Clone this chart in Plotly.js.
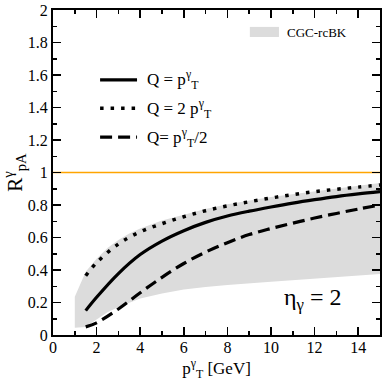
<!DOCTYPE html>
<html>
<head>
<meta charset="utf-8">
<script src="https://cdn.plot.ly/plotly-3.0.1.min.js"></script>
<style>
html,body{margin:0;padding:0;background:#fff;}
#chart{width:382px;height:382px;}
#chart svg text{font-family:"Liberation Serif","Times New Roman",serif !important;}
</style>
</head>
<body>
<div id="chart"></div>
<script>
// Data
const ptX = [1.5, 2, 3, 4, 5, 6, 7, 8, 9, 10, 11, 12, 13, 14, 15];
const qEqPt = [0.15, 0.232, 0.378, 0.495, 0.578, 0.642, 0.693, 0.732, 0.762, 0.788, 0.812, 0.833, 0.852, 0.868, 0.882];
const qEq2Pt = [0.365, 0.445, 0.56, 0.635, 0.685, 0.728, 0.765, 0.795, 0.82, 0.843, 0.864, 0.882, 0.897, 0.91, 0.923];
const qEqHalfPt = [0.05, 0.075, 0.16, 0.26, 0.355, 0.44, 0.51, 0.568, 0.618, 0.655, 0.688, 0.72, 0.748, 0.775, 0.80];

const bandLowX = [1, 1.5, 2, 2.5, 3, 4, 5, 6, 7, 8, 10, 12, 15];
const bandLowY = [0.045, 0.05, 0.095, 0.14, 0.172, 0.225, 0.256, 0.28, 0.295, 0.308, 0.328, 0.345, 0.375];
const bandHighX = [1, 1.5, 2, 2.5, 3, 3.5, 4, 5, 6, 7, 8, 10, 12, 15];
const bandHighY = [0.236, 0.39, 0.47, 0.535, 0.585, 0.625, 0.655, 0.705, 0.74, 0.775, 0.805, 0.85, 0.885, 0.935];

const refX = [0, 15];
const refY = [1, 1];

const xTickVals = [0, 2, 4, 6, 8, 10, 12, 14];
const yTickVals = [0, 0.2, 0.4, 0.6, 0.8, 1, 1.2, 1.4, 1.6, 1.8, 2];
const yTickText = ['0', '0.2', '0.4', '0.6', '0.8', '1', '1.2', '1.4', '1.6', '1.8', '2'];

const names = ['Q = p<sup>γ</sup><sub>T</sub>', 'Q = 2 p<sup>γ</sup><sub>T</sub>', 'Q= p<sup>γ</sup><sub>T</sub>/2'];
const bandName = 'CGC-rcBK';

const FONT = 'Liberation Serif, Times New Roman, serif';
const BAND = '#dcdcdc';
const DOT = '3.5px,7px';
const DASH = '12px,6px';

const traces = [
  {x: bandLowX.concat(bandHighX.slice().reverse()), y: bandLowY.concat(bandHighY.slice().reverse()),
   type: 'scatter', mode: 'lines', fill: 'toself', fillcolor: BAND, line: {width: 0}, name: bandName, hoverinfo: 'skip'},
  {x: refX, y: refY, type: 'scatter', mode: 'lines', line: {color: '#FFA500', width: 1.5}},
  {x: ptX, y: qEqPt, type: 'scatter', mode: 'lines', line: {color: '#000', width: 3.2, shape: 'spline', smoothing: 1}, name: names[0]},
  {x: ptX, y: qEq2Pt, type: 'scatter', mode: 'lines', line: {color: '#000', width: 3.5, dash: DOT, shape: 'spline', smoothing: 1}, name: names[1]},
  {x: ptX, y: qEqHalfPt, type: 'scatter', mode: 'lines', line: {color: '#000', width: 3.2, dash: DASH, shape: 'spline', smoothing: 1}, name: names[2]},
  // invisible trace to carry the mirrored top/right axes
  {x: refX, y: refY, xaxis: 'x2', yaxis: 'y2', type: 'scatter', mode: 'lines', line: {width: 0}, hoverinfo: 'skip'}
];

// manual legend
const legY = [0.785, 0.698, 0.609];
const legDash = ['solid', DOT, DASH];
const shapes = [];
const annotations = [];
for (let i = 0; i < 3; i++) {
  shapes.push({type: 'line', xref: 'paper', yref: 'paper', x0: 0.144, x1: 0.257, y0: legY[i], y1: legY[i],
    line: {color: '#000', width: i === 1 ? 3.5 : 3.2, dash: legDash[i]}});
  annotations.push({xref: 'paper', yref: 'paper', x: 0.281, y: legY[i], xanchor: 'left', yanchor: 'middle',
    text: names[i], showarrow: false, font: {family: FONT, size: 17, color: '#000'}});
}
shapes.push({type: 'rect', xref: 'paper', yref: 'paper', x0: 0.602, x1: 0.691, y0: 0.917, y1: 0.948,
  fillcolor: BAND, line: {width: 0}});
annotations.push({xref: 'paper', yref: 'paper', x: 0.709, y: 0.932, xanchor: 'left', yanchor: 'middle',
  text: bandName, showarrow: false, font: {family: FONT, size: 13, color: '#000'}});
annotations.push({xref: 'paper', yref: 'paper', x: 0.795, y: 0.11, xanchor: 'center', yanchor: 'middle',
  text: 'η<sub>γ</sub> = 2', showarrow: false, font: {family: FONT, size: 24, color: '#000'}});

const axisCommon = {
  showgrid: false, zeroline: false, showline: true, linecolor: '#000', linewidth: 2,
  ticks: 'inside', ticklen: 8, tickwidth: 1.5, tickcolor: '#000',
  tickfont: {family: FONT, size: 16, color: '#000'}
};

const layout = {
  width: 382, height: 382,
  margin: {l: 53, r: 2, t: 10, b: 47},
  paper_bgcolor: '#fff', plot_bgcolor: 'rgba(0,0,0,0)',
  showlegend: false,
  font: {family: FONT, color: '#000'},
  xaxis: Object.assign({}, axisCommon, {
    range: [0, 15], tickvals: xTickVals, ticktext: xTickVals.map(String), ticklabelstandoff: -3,
    minor: {dtick: 1, tick0: 0, ticks: 'inside', ticklen: 4, tickwidth: 1.5, tickcolor: '#000'},
    title: {text: 'p<sup>γ</sup><sub>T</sub> [GeV]', font: {family: FONT, size: 17, color: '#000'}, standoff: 0}
  }),
  yaxis: Object.assign({}, axisCommon, {
    range: [0, 2], tickvals: yTickVals, ticktext: yTickText,
    minor: {dtick: 0.1, tick0: 0, ticks: 'inside', ticklen: 4, tickwidth: 1.5, tickcolor: '#000'},
    title: {text: 'R<sup>γ</sup><sub>pA</sub>', font: {family: FONT, size: 21, color: '#000'}, standoff: 4}
  }),
  xaxis2: Object.assign({}, axisCommon, {
    overlaying: 'x', side: 'top', anchor: 'y2', range: [0, 15], tickvals: xTickVals, showticklabels: false,
    minor: {dtick: 1, tick0: 0, ticks: 'inside', ticklen: 4, tickwidth: 1.5, tickcolor: '#000'}
  }),
  yaxis2: Object.assign({}, axisCommon, {
    overlaying: 'y', side: 'right', anchor: 'x2', range: [0, 2], tickvals: yTickVals, showticklabels: false,
    minor: {dtick: 0.1, tick0: 0, ticks: 'inside', ticklen: 4, tickwidth: 1.5, tickcolor: '#000'}
  }),
  shapes: shapes,
  annotations: annotations
};

Plotly.newPlot('chart', traces, layout, {staticPlot: true, displayModeBar: false});
</script>
</body>
</html>
